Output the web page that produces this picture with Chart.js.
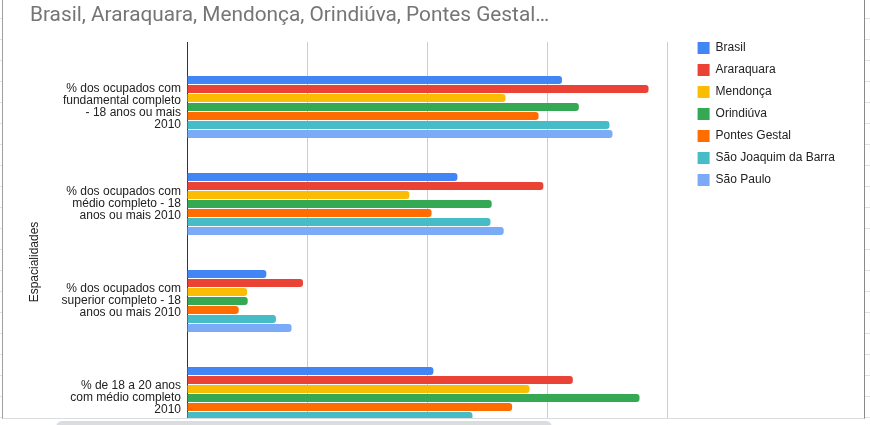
<!DOCTYPE html>
<html>
<head>
<meta charset="utf-8">
<script src="https://cdn.jsdelivr.net/npm/chart.js@4.4.0/dist/chart.umd.min.js"></script>
<style>
	body { margin: 0; width: 870px; height: 425px; overflow: hidden; position: relative; background: #fff; }
	#chart-wrap { position: absolute; left: 0; top: 0; width: 870px; height: 512px; }
	.title { position: absolute; left: 30px; top: 2px; font: 20.8px Roboto, sans-serif; line-height: 24px; color: #757575; white-space: nowrap; }
	.sheet-l, .sheet-r { position: absolute; top: 0; height: 425px; background: repeating-linear-gradient(to bottom, transparent 0, transparent 18px, #e0e0e0 18px, #e0e0e0 19px, transparent 19px, transparent 21px); }
	.sheet-l { left: 0; width: 2px; }
	.sheet-r { left: 865px; width: 5px; }
	.frame { position: absolute; left: 2px; top: -2px; width: 861px; height: 420px; border-left: 1px solid #a0a0a0; border-right: 1px solid #8a8a8a; border-bottom: 1px solid #dadce0; pointer-events: none; }
	.below { position: absolute; left: 3px; top: 419px; width: 861px; height: 6px; background: #fff; }
	.thumb { position: absolute; left: 56px; top: 421px; width: 496px; height: 12px; border-radius: 6px; background: #dadce0; }
</style>
</head>
<body>
<div id="chart-wrap"><canvas id="chart" width="870" height="512"></canvas></div>
<div class="sheet-l"></div>
<div class="sheet-r"></div>
<div class="below"></div>
<div class="thumb"></div>
<div class="frame"></div>
<div class="title">Brasil, Araraquara, Mendonça, Orindiúva, Pontes Gestal…</div>
<script>
const categories = [
	['% dos ocupados com', 'fundamental completo', '- 18 anos ou mais', '2010'],
	['% dos ocupados com', 'médio completo - 18', 'anos ou mais 2010'],
	['% dos ocupados com', 'superior completo - 18', 'anos ou mais 2010'],
	['% de 18 a 20 anos', 'com médio completo', '2010'],
];
const brasil = [62.4, 45.0, 13.2, 41.0];
const araraquara = [76.8, 59.3, 19.3, 64.2];
const mendonca = [53.0, 37.0, 10.0, 57.0];
const orindiuva = [65.2, 50.7, 10.1, 75.3];
const pontesGestal = [58.5, 40.7, 8.6, 54.1];
const saoJoaquim = [70.3, 50.5, 14.8, 47.5];
const saoPaulo = [70.8, 52.7, 17.4, 53.0];
const xTicks = [0, 20, 40, 60, 80];

const series = [
	{ label: 'Brasil', values: brasil, color: '#4285f4' },
	{ label: 'Araraquara', values: araraquara, color: '#ea4335' },
	{ label: 'Mendonça', values: mendonca, color: '#fbbc04' },
	{ label: 'Orindiúva', values: orindiuva, color: '#34a853' },
	{ label: 'Pontes Gestal', values: pontesGestal, color: '#ff6d01' },
	{ label: 'São Joaquim da Barra', values: saoJoaquim, color: '#46bdc6' },
	{ label: 'São Paulo', values: saoPaulo, color: '#7baaf7' },
];

const font = { family: "'Liberation Sans', Arial, sans-serif", size: 12 };

new Chart('chart', {
	type: 'bar',
	data: {
		datasets: series.map((s) => ({
			label: s.label,
			data: s.values.map((v, i) => ({ x: v, y: i })),
			backgroundColor: s.color,
			borderWidth: 0,
			borderRadius: 3,
			categoryPercentage: 0.65,
			barPercentage: 0.89,
		})),
	},
	options: {
		indexAxis: 'y',
		responsive: false,
		animation: false,
		events: [],
		devicePixelRatio: 1,
		layout: { padding: { top: 32, left: 30, right: 25, bottom: 8 } },
		scales: {
			x: {
				type: 'linear',
				position: 'top',
				min: 0,
				max: 83.3,
				afterBuildTicks: (scale) => { scale.ticks = xTicks.map((v) => ({ value: v })); },
				afterFit: (scale) => { scale.height = 10; },
				ticks: { display: false },
				grid: {
					drawTicks: false,
					color: (ctx) => (ctx.tick && ctx.tick.value === 0 ? '#333' : '#ccc'),
				},
				border: { display: false },
			},
			y: {
				type: 'linear',
				reverse: true,
				offset: false,
				min: -0.67,
				max: 3.866,
				afterBuildTicks: (scale) => { scale.ticks = categories.map((c, i) => ({ value: i })); },
				afterFit: (scale) => { scale.width = 157; },
				ticks: {
					autoSkip: false,
					padding: 6,
					color: '#222',
					font: { ...font, lineHeight: 1 },
					callback: (value) => categories[value],
				},
				grid: { display: false, drawTicks: false, offset: false },
				border: { display: true, color: '#333' },
				title: {
					display: true,
					text: 'Espacialidades',
					color: '#222',
					padding: 0,
					font: { ...font, lineHeight: 0.75 },
				},
			},
		},
		plugins: {
			legend: {
				position: 'right',
				align: 'start',
				labels: {
					boxWidth: 12,
					boxHeight: 12,
					padding: 10,
					color: '#222',
					font,
				},
			},
			tooltip: { enabled: false },
		},
	},
});
</script>
</body>
</html>
